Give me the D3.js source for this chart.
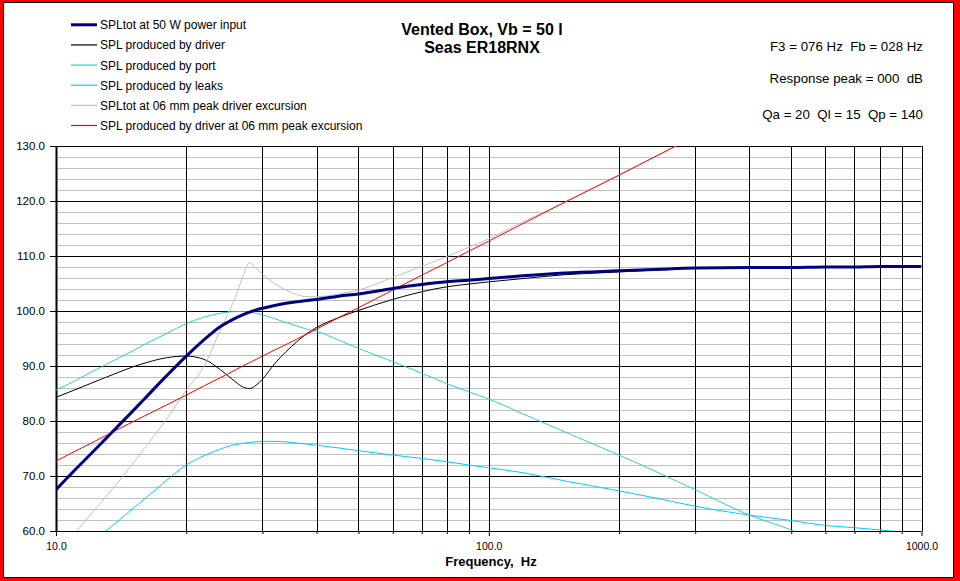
<!DOCTYPE html>
<html>
<head>
<meta charset="utf-8">
<script src="https://cdn.jsdelivr.net/npm/d3@7"></script>
<style>
  html, body { margin: 0; padding: 0; background: #ff0000; }
  svg { display: block; font-family: Arial, "Liberation Sans", sans-serif; }
  text { white-space: pre; }
</style>
</head>
<body>
<svg id="chart" width="960" height="581"></svg>
<script>
// frequencies (Hz) shared by every series
const freqs = [10, 11, 12, 13, 14, 15, 16, 18, 20, 22, 24, 25, 26, 27, 28, 29, 30, 32, 34, 36, 38, 40, 45, 50,
  60, 70, 80, 90, 100, 120, 150, 200, 250, 300, 400, 500, 600, 700, 800, 900, 1000];

// SPL values in dB, null = not drawn
const splTot = [67.5, 70.9, 73.9, 76.7, 79.3, 81.7, 84.0, 88.2, 91.8, 94.8, 97.2, 98.0, 98.7, 99.3, 99.8, 100.2, 100.5, 101.0, 101.4, 101.7, 101.9, 102.1, 102.7, 103.1,
  104.1, 104.8, 105.3, 105.6, 105.9, 106.4, 106.9, 107.3, 107.6, 107.8, 107.9, 107.9, 108.0, 108.0, 108.1, 108.1, 108.1];
const splDriver = [84.3, 85.6, 86.8, 87.9, 88.9, 89.8, 90.5, 91.5, 91.8, 91.2, 89.3, 88.2, 87.1, 86.2, 85.9, 86.5, 87.6, 90.4, 92.6, 94.4, 95.9, 97.0, 98.8, 100.1,
  102.1, 103.5, 104.4, 104.9, 105.3, 105.9, 106.6, 107.1, 107.5, 107.8, 107.9, 107.9, 108.0, 108.0, 108.1, 108.1, 108.1];
const splPort = [85.6, 87.2, 88.8, 90.2, 91.5, 92.7, 93.9, 95.9, 97.7, 98.9, 99.6, 99.8, 99.9, 99.9, 99.8, 99.6, 99.3, 98.6, 97.9, 97.3, 96.7, 96.3, 94.7, 93.2,
  90.8, 88.7, 86.8, 85.3, 84.0, 81.3, 78.0, 73.8, 70.4, 67.5, 62.9, 60.2, 57.5, null, null, null, null];
const splLeaks = [null, null, 57.6, 59.9, 62.0, 64.0, 65.8, 69.2, 72.0, 73.7, 74.9, 75.4, 75.7, 75.95, 76.1, 76.2, 76.3, 76.3, 76.2, 76.0, 75.8, 75.6, 75.1, 74.6,
  73.8, 73.2, 72.6, 72.0, 71.5, 70.6, 69.1, 67.3, 65.8, 64.5, 62.9, 61.9, 61.0, 60.6, 60.2, 59.8, null];
const splTotXmax = [null, 59.4, 62.9, 66.1, 69.1, 72.1, 75.0, 80.3, 85.6, 90.0, 96.6, 99.6, 102.6, 106.2, 108.8, 107.8, 106.7, 105.0, 103.8, 103.0, 102.6, 102.6, 103.1, 103.8,
  106.1, 108.1, 109.9, 111.6, 113.1, 116.2, 119.8, 124.7, 128.6, 131.8, null, null, null, null, null, null, null];
const splDriverXmax = [72.7, 74.4, 75.9, 77.3, 78.6, 79.8, 80.9, 82.9, 84.7, 86.4, 87.9, 88.6, 89.3, 90.0, 90.6, 91.2, 91.8, 92.9, 93.9, 94.9, 95.8, 96.7, 98.8, 100.6,
  103.8, 106.5, 108.8, 110.9, 112.7, 115.9, 119.8, 124.7, 128.6, 131.8, null, null, null, null, null, null, null];

const seriesNames = [
  'SPLtot at 50 W power input',
  'SPL produced by driver',
  'SPL produced by port',
  'SPL produced by leaks',
  'SPLtot at 06 mm peak driver excursion',
  'SPL produced by driver at 06 mm peak excursion'
];
const seriesColors = ['#000080', '#000000', '#33cccc', '#00ccff', '#c0c0c0', '#ff0000'];
const seriesWidths = [3, 1, 1, 1, 1, 1];
const seriesValues = [splTot, splDriver, splPort, splLeaks, splTotXmax, splDriverXmax];

const titleLines = ['Vented Box, Vb = 50 l', 'Seas ER18RNX'];
const infoLines = ['F3 = 076 Hz  Fb = 028 Hz', 'Response peak = 000  dB', 'Qa = 20  Ql = 15  Qp = 140'];
const xLabelTicks = [10, 100, 1000];
const xTitle = 'Frequency,  Hz';

const series = seriesNames.map((name, i) => ({
  name: name,
  color: seriesColors[i],
  width: seriesWidths[i],
  points: freqs.map((f, k) => ({ f: f, v: seriesValues[i][k] }))
}));

const svg = d3.select('#chart');

// frame
svg.append('rect')
  .attr('x', 3.5).attr('y', 2.5)
  .attr('width', 950).attr('height', 575)
  .attr('fill', '#fff').attr('stroke', '#000').attr('stroke-width', 1);

const x = d3.scaleLog().domain([10, 1000]).range([56, 921.5]);
const y = d3.scaleLinear().domain([60, 130]).range([531, 146]);

// grid
const grid = svg.append('g').attr('class', 'grid');
grid.selectAll('line.minor')
  .data(d3.range(62, 130, 2).filter(d => d % 10 !== 0))
  .enter().append('line')
  .attr('x1', x(10)).attr('x2', x(1000))
  .attr('y1', d => Math.round(y(d)) + 0.5).attr('y2', d => Math.round(y(d)) + 0.5)
  .attr('stroke', '#c0c0c0').attr('stroke-width', 1);
grid.selectAll('line.vert')
  .data(x.ticks())
  .enter().append('line')
  .attr('x1', d => Math.round(x(d)) + 0.5).attr('x2', d => Math.round(x(d)) + 0.5)
  .attr('y1', y(130)).attr('y2', y(60))
  .attr('stroke', '#000').attr('stroke-width', d => d === 10 ? 2 : 1);
grid.selectAll('line.major')
  .data(d3.range(60, 131, 10))
  .enter().append('line')
  .attr('x1', x(10)).attr('x2', x(1000))
  .attr('y1', d => Math.round(y(d)) + 0.5).attr('y2', d => Math.round(y(d)) + 0.5)
  .attr('stroke', '#000').attr('stroke-width', 1);

// axes
const yAxis = svg.append('g')
  .attr('transform', 'translate(' + x(10) + ',0)')
  .call(d3.axisLeft(y).tickValues(d3.range(60, 131, 10)).tickFormat(d3.format('.1f')).tickSize(6).tickPadding(5));
yAxis.select('.domain').remove();
yAxis.selectAll('text').attr('font-size', 11.5).attr('fill', '#000').attr('font-family', 'Arial, "Liberation Sans", sans-serif');

const xAxis = svg.append('g')
  .attr('transform', 'translate(0,' + y(60) + ')')
  .call(d3.axisBottom(x).tickValues(x.ticks())
    .tickFormat(d => xLabelTicks.includes(d) ? d3.format('.1f')(d) : '')
    .tickSize(3).tickPadding(9));
xAxis.select('.domain').remove();
xAxis.selectAll('.tick line').attr('y2', d => xLabelTicks.includes(d) ? 5 : 3);
xAxis.selectAll('text').attr('font-size', 10.5).attr('fill', '#000').attr('font-family', 'Arial, "Liberation Sans", sans-serif');

svg.append('text')
  .attr('x', 491).attr('y', 566)
  .attr('text-anchor', 'middle')
  .attr('font-size', 13).attr('font-weight', 'bold')
  .text(xTitle);

// series
svg.append('clipPath').attr('id', 'plot-clip')
  .append('rect')
  .attr('x', x(10)).attr('y', y(130))
  .attr('width', x(1000) - x(10)).attr('height', y(60) - y(130));

const line = d3.line()
  .defined(d => d.v != null)
  .x(d => x(d.f))
  .y(d => y(d.v))
  .curve(d3.curveMonotoneX);

// navy total drawn last so it sits on top
const drawOrder = [1, 2, 3, 4, 5, 0].map(i => series[i]);
svg.append('g')
  .attr('class', 'lines')
  .attr('clip-path', 'url(#plot-clip)')
  .selectAll('path')
  .data(drawOrder)
  .enter().append('path')
  .attr('d', s => line(s.points))
  .attr('fill', 'none')
  .attr('stroke', s => s.color)
  .attr('stroke-width', s => s.width)
  .attr('stroke-linejoin', 'round');

// legend
const legend = svg.append('g').attr('class', 'legend');
const rows = legend.selectAll('g')
  .data(series)
  .enter().append('g')
  .attr('transform', (s, i) => 'translate(0,' + (29.3 + i * 20.14) + ')');
rows.append('line')
  .attr('x1', 71).attr('x2', 97)
  .attr('y1', -4.5).attr('y2', -4.5)
  .attr('stroke', s => s.color)
  .attr('stroke-width', s => s.width === 3 ? 3 : 1.2);
rows.append('text')
  .attr('x', 100).attr('y', 0)
  .attr('font-size', 12)
  .attr('fill', '#000')
  .text(s => s.name);

// title
svg.append('g').selectAll('text')
  .data(titleLines)
  .enter().append('text')
  .attr('x', 482).attr('y', (d, i) => 35 + i * 18)
  .attr('text-anchor', 'middle')
  .attr('font-size', 16).attr('font-weight', 'bold')
  .text(d => d);

// info block
svg.append('g').selectAll('text')
  .data(infoLines)
  .enter().append('text')
  .attr('x', 923).attr('y', (d, i) => [51, 83, 119][i])
  .attr('text-anchor', 'end')
  .attr('font-size', 13.3)
  .text(d => d);
</script>
</body>
</html>
